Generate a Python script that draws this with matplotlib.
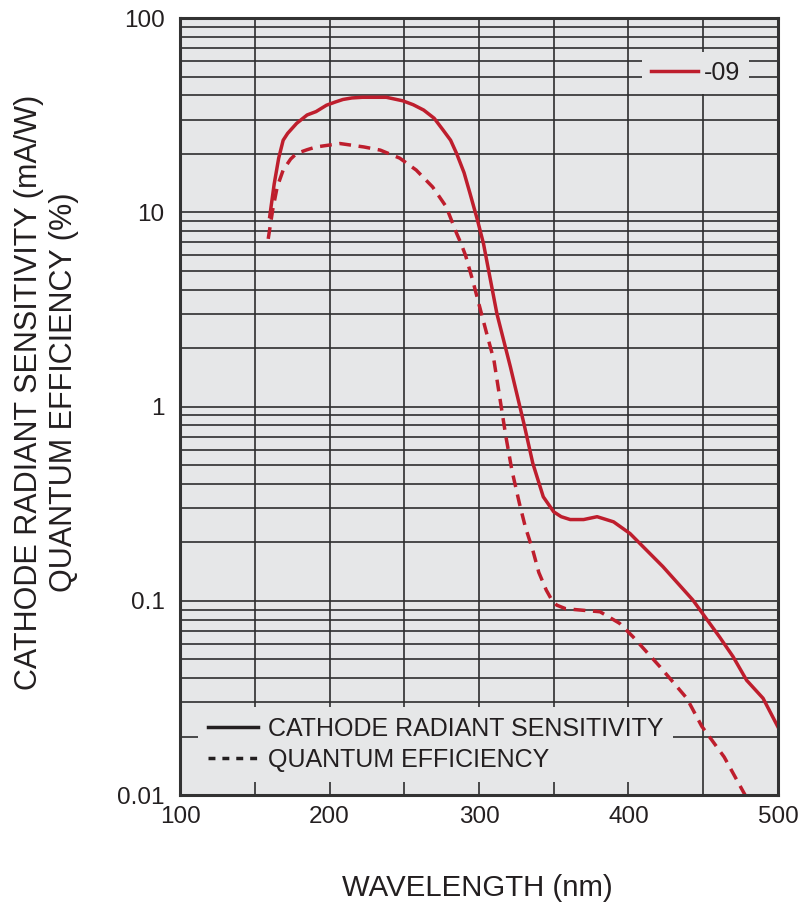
import matplotlib
matplotlib.use("Agg")
import matplotlib.pyplot as plt
from matplotlib.lines import Line2D
from matplotlib.ticker import FixedLocator, LogLocator, NullFormatter

plt.rcParams['font.family'] = ['Liberation Sans', 'DejaVu Sans']

# cathode radiant sensitivity (mA/W), solid line
sens_nm = [160, 163, 166, 169, 172, 178, 185, 191, 198, 204, 209, 215, 222, 238, 249,
           256, 263, 270, 276, 281, 285, 290, 294, 299, 303, 312, 321, 330, 336, 343,
           350, 355, 361, 370, 379, 390, 401, 423, 443, 461, 470, 479, 490, 500]
sens_val = [9.5, 14, 19, 23.5, 25.5, 28.7, 31.7, 33, 35.6, 37, 38.1, 38.8, 39.1, 39.1, 37.5,
            35.8, 33.6, 30.5, 26.5, 23.5, 20.1, 16, 12.5, 9.1, 6.9, 3.0, 1.6, 0.82, 0.51, 0.343,
            0.287, 0.271, 0.262, 0.262, 0.271, 0.255, 0.222, 0.150, 0.101, 0.065, 0.0515, 0.039,
            0.0315, 0.0224]

# quantum efficiency (%), dashed line
qe_nm = [159, 162, 165, 169, 174, 178, 185, 191, 207, 223, 234, 247, 258, 269,
         278, 285, 288, 291, 296, 301, 305, 310, 314, 318, 322, 327, 331, 336, 340,
         345, 349, 352, 358, 368, 381, 394, 403, 421, 439, 449, 464, 478, 482]
qe_val = [7.3, 10.3, 13.5, 16.5, 18.8, 20.1, 21.0, 21.7, 22.6, 21.7, 20.9, 19.0, 16.5, 13.5,
          10.7, 7.8, 6.9, 6.0, 4.4, 3.14, 2.4, 1.73, 1.1, 0.70, 0.47, 0.318, 0.24, 0.182, 0.14,
          0.1135, 0.1, 0.095, 0.091, 0.0896, 0.0878, 0.0766, 0.0653, 0.0458, 0.0315, 0.0226,
          0.0157, 0.0100, 0.0088]

x_ticks = [100, 200, 300, 400, 500]
y_ticks = [0.01, 0.1, 1, 10, 100]
y_ticklabels = ["0.01", "0.1", "1", "10", "100"]

red = '#be1e2d'
txt = '#231f20'
bg = '#e6e7e8'

fig = plt.figure(figsize=(7.99, 9.08), dpi=100)
ax = fig.add_axes([0.2253, 0.1244, 0.7484, 0.8557])
ax.set_facecolor(bg)

ax.plot(sens_nm, sens_val, color=red, lw=2.5, solid_joinstyle='round')
ax.plot(qe_nm, qe_val, color=red, lw=2.5, dashes=(3.4, 2.2))

ax.set_yscale('log')
ax.set_xlim(100, 500)
ax.set_ylim(0.01, 100)

ax.xaxis.set_major_locator(FixedLocator(x_ticks))
ax.xaxis.set_minor_locator(FixedLocator([150, 250, 350, 450]))
ax.set_xticklabels([str(v) for v in x_ticks])
ax.yaxis.set_major_locator(FixedLocator(y_ticks))
ax.yaxis.set_minor_locator(LogLocator(base=10, subs=range(2, 10)))
ax.yaxis.set_minor_formatter(NullFormatter())
ax.set_yticklabels(y_ticklabels)

ax.tick_params(which='both', length=0, labelsize=17.5, colors=txt)
ax.tick_params(axis='x', pad=8)
ax.tick_params(axis='y', pad=11)
ax.grid(which='both', color='#2e2e2e', lw=1.2)
ax.set_axisbelow(True)
for s in ax.spines.values():
    s.set_linewidth(2.2)
    s.set_color('#333333')

# legends
h1 = [Line2D([], [], color=txt, lw=2.5),
      Line2D([], [], color=txt, lw=2.5, dashes=(2.0, 2.0))]
leg1 = ax.legend(h1, ["CATHODE RADIANT SENSITIVITY", "QUANTUM EFFICIENCY"],
                 loc='lower left', bbox_to_anchor=(0.03, 0.017), fontsize=18,
                 frameon=True, fancybox=False, facecolor=bg, edgecolor='none',
                 framealpha=1, handlelength=2.0, handletextpad=0.4,
                 labelspacing=0.27, borderpad=0.4, borderaxespad=0)
for t in leg1.get_texts():
    t.set_color(txt)
ax.add_artist(leg1)

leg2 = ax.legend([Line2D([], [], color=red, lw=2.5)], ["-09"],
                 loc='upper right', bbox_to_anchor=(0.952, 0.956), fontsize=18,
                 frameon=True, fancybox=False, facecolor=bg, edgecolor='none',
                 framealpha=1, handlelength=1.9, handletextpad=0.25,
                 borderpad=0.35, borderaxespad=0)
for t in leg2.get_texts():
    t.set_color(txt)

fig.text(0.058, 0.568, "CATHODE RADIANT SENSITIVITY (mA/W)\nQUANTUM EFFICIENCY (%)",
         rotation=90, ha='center', va='center', multialignment='center',
         fontsize=22, color=txt, linespacing=1.2)
fig.text(0.598, 0.022, "WAVELENGTH (nm)", ha='center', va='center',
         fontsize=21.2, color=txt)

fig.savefig('out.png', dpi=100)
